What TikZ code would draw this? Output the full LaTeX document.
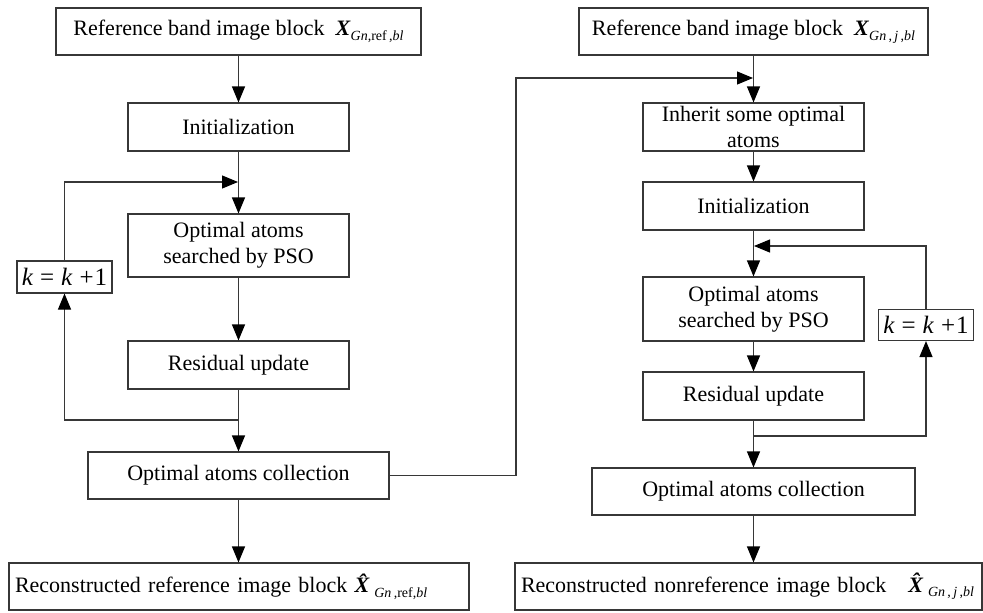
\documentclass[tikz,border=0pt]{standalone}
\usepackage{fontspec}
\setmainfont{Liberation Serif}
\usetikzlibrary{arrows.meta,calc}
\definecolor{ln}{RGB}{55,55,55}
\newcommand{\bX}{\textbf{\textit{X}}}
\newcommand{\hbX}{\textbf{\textit{\^{X}}}}
\newcommand{\subs}[1]{\raisebox{-0.45ex}{\fontsize{14}{14}\selectfont #1}}
\newcommand{\kk}{\textit{k}\;=\;\textit{k}\;+\hspace{1pt}1}
\tikzset{
  box/.style={draw=ln, line width=1.1pt, fill=white, inner sep=2pt, align=center,
    font=\fontsize{22}{26}\selectfont},
  kbox/.style={draw=ln, line width=1.1pt, fill=white, inner sep=1pt,
    font=\fontsize{25}{26}\selectfont},
  conn/.style={draw=ln, line width=1.1pt},
  arr/.style={conn, -{Triangle[length=16pt,width=13pt,color=black]}}
}
\begin{document}
\begin{tikzpicture}[x=1pt,y=-1pt]
\useasboundingbox (0,0) rectangle (983,613);
% left column
\node[box, minimum width=365pt, minimum height=47pt] (ltop) at (238.5,31.5)
  {Reference band image block\ \ \bX\subs{\textit{Gn}\/,ref\,,\textit{bl}}};
\node[box, minimum width=221pt, minimum height=48pt] (linit) at (238.5,127) {Initialization};
\node[box, minimum width=221pt, minimum height=63pt] (lpso) at (238.5,245.5) {Optimal atoms\\searched by PSO};
\node[kbox, minimum width=95pt, minimum height=32pt] (lk) at (64.5,277) {\kk};
\node[box, minimum width=221pt, minimum height=48pt] (lres) at (238.5,365) {Residual update};
\node[box, minimum width=301pt, minimum height=47pt] (lcol) at (238.5,475.5) {Optimal atoms collection};
\node[box, minimum width=460pt, minimum height=47pt, text width=448pt, align=left] (lrec) at (239,586.5)
  {Reconstructed reference image block \hbX\subs{\textit{Gn}\,,ref,\textit{bl}}};
% right column
\node[box, minimum width=349pt, minimum height=47pt] (rtop) at (753.5,31.5)
  {Reference band image block\ \ \bX\subs{\textit{Gn}\,,\,\textit{j}\,,\textit{bl}}};
\node[box, minimum width=221pt, minimum height=48pt] (rinh) at (753.5,127) {Inherit some optimal\\atoms};
\node[box, minimum width=221pt, minimum height=48pt] (rinit) at (753.5,206) {Initialization};
\node[box, minimum width=221pt, minimum height=64pt] (rpso) at (753.5,309) {Optimal atoms\\searched by PSO};
\node[kbox, minimum width=95pt, minimum height=31pt] (rk) at (926,325) {\kk};
\node[box, minimum width=221pt, minimum height=48pt] (rres) at (753.5,396) {Residual update};
\node[box, minimum width=323pt, minimum height=47pt] (rcol) at (753.5,491.5) {Optimal atoms collection};
\node[box, minimum width=467pt, minimum height=47pt, text width=455pt, align=left] (rrec) at (748.5,586.5)
  {Reconstructed nonreference image block\quad \hbX\subs{\textit{Gn}\,,\,\textit{j}\,,\textit{bl}}};
% coordinates
\coordinate (lj1) at (238.5,182);
\coordinate (lj2) at (238.5,420);
\coordinate (rj0) at (753.5,78);
\coordinate (rj1) at (753.5,246);
\coordinate (rj2) at (753.5,436);
\coordinate (cx) at (516,475.5);
% left connectors
\draw[arr] (ltop.south -| lj1) -- (linit.north -| lj1);
\draw[arr] (linit.south -| lj1) -- (lpso.north -| lj1);
\draw[arr] (lpso.south -| lj1) -- (lres.north -| lj1);
\draw[arr] (lres.south -| lj1) -- (lcol.north -| lj1);
\draw[arr] (lcol.south -| lj1) -- (lrec.north -| lj1);
\draw[arr] (lj2) -- (lj2 -| lk.south) -- (lk.south);
\draw[arr] (lk.north) -- (lk.north |- lj1) -- ($(lj1)+(-0.5,0)$);
\draw[arr] (lcol.east) -- (cx) -- (cx |- rj0) -- ($(rj0)+(-0.5,0)$);
% right connectors
\draw[arr] (rtop.south -| rj0) -- (rinh.north -| rj0);
\draw[arr] (rinh.south -| rj0) -- (rinit.north -| rj0);
\draw[arr] (rinit.south -| rj0) -- (rpso.north -| rj0);
\draw[arr] (rpso.south -| rj0) -- (rres.north -| rj0);
\draw[arr] (rres.south -| rj0) -- (rcol.north -| rj0);
\draw[arr] (rcol.south -| rj0) -- (rrec.north -| rj0);
\draw[arr] (rj2) -- (rj2 -| rk.south) -- (rk.south);
\draw[arr] (rk.north) -- (rk.north |- rj1) -- ($(rj1)+(0.5,0)$);
\end{tikzpicture}
\end{document}
